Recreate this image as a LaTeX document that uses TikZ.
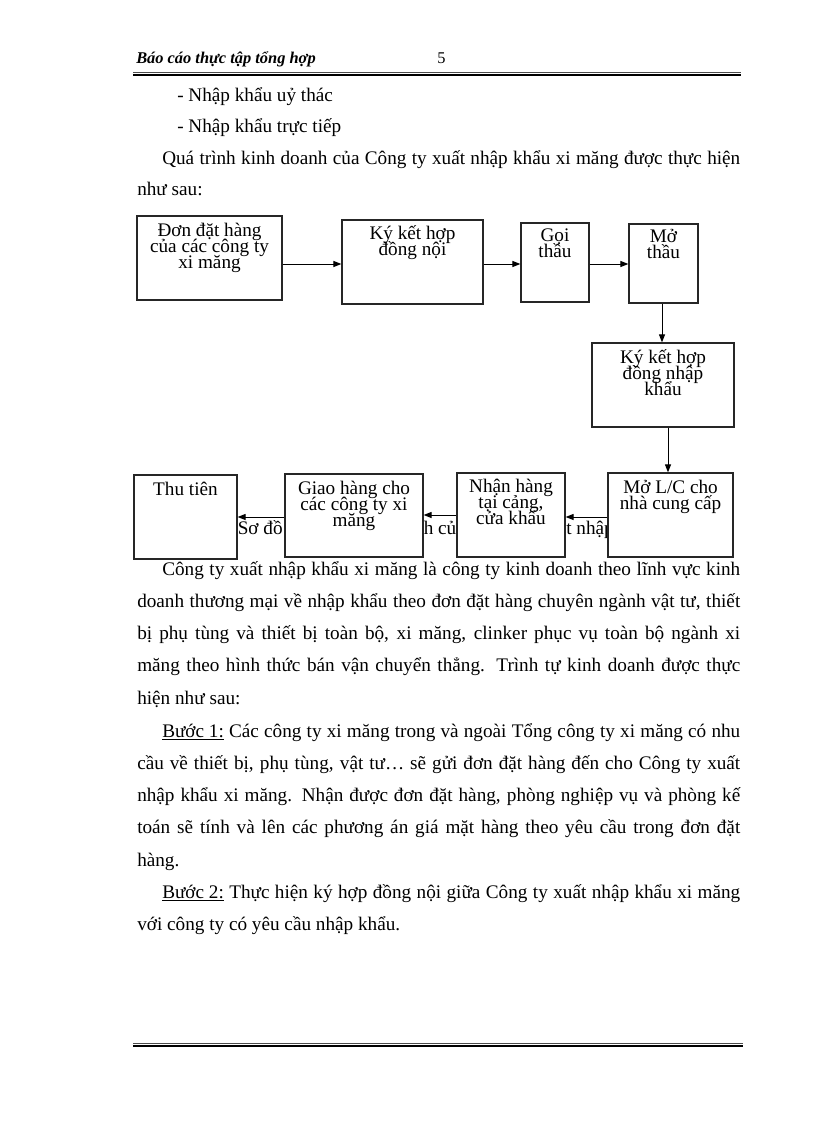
\documentclass[tikz,border=0pt]{standalone}
\usepackage{fontspec}
\setmainfont{Liberation Serif}
\usetikzlibrary{arrows.meta}
\newcommand\myboxfont{\fontsize{14.4pt}{12pt}\selectfont\lineskiplimit=-50pt\relax}
\begin{document}
\begin{tikzpicture}[x=0.75pt,y=-0.75pt,
  para/.style={anchor=base west, inner sep=0pt, font=\fontsize{14.4pt}{17pt}\selectfont},
  hdr/.style={anchor=base west, inner sep=0pt, font=\fontsize{12.3pt}{14pt}\selectfont},
  capfrag/.style={anchor=base west, inner sep=0pt, font=\fontsize{14.4pt}{17pt}\selectfont},
  flowbox/.style={draw=black!85, line width=0.9pt, fill=white, inner sep=0pt},
  boxtext/.style={anchor=north, inner sep=0pt, align=center, font=\myboxfont},
  arr/.style={-{Triangle[length=6pt,width=4.5pt]}, line width=0.75pt, draw=black},
  rulethin/.style={line width=0.6pt, draw=black!70},
  rulethick/.style={line width=1.5pt, draw=black}
]
\useasboundingbox (0,0) rectangle (816,1123);
\fill[white] (0,0) rectangle (816,1123);

% header
\node[hdr] (htitle) at (136,64) {\bfseries\itshape Báo cáo thực tập tổng hợp};
\node[hdr] (hpage) at (437,64) {5};
\draw[rulethin] (133,72) -- (741,72);
\draw[rulethick] (133,74.6) -- (741,74.6);

% top text
\node[para] (l1) at (177,102) {- Nhập khẩu uỷ thác};
\node[para] (l2) at (177,133) {- Nhập khẩu trực tiếp};
\node[para] (l3) at (162,165) {\makebox[433.5pt][s]{Quá trình kinh doanh của Công ty xuất nhập khẩu xi măng được thực hiện}};
\node[para] (l4) at (137,196) {như sau:};

% caption fragments (partly hidden by boxes)
\node[capfrag] (c1) at (237.5,534) {Sơ đồ};
\node[capfrag] (c2) at (423.5,534) {h củ};
\node[capfrag] (c3) at (566,534) {t nhập};

% boxes
\node[flowbox, minimum width=108.75pt, minimum height=63pt] (b1) at (209.5,258) {};
\node[flowbox, minimum width=105.75pt, minimum height=63pt] (b2) at (412.5,262) {};
\node[flowbox, minimum width=51pt, minimum height=59.25pt] (b3) at (555,262.5) {};
\node[flowbox, minimum width=51.75pt, minimum height=59.25pt] (b4) at (663.5,263.5) {};
\node[flowbox, minimum width=106.5pt, minimum height=63pt] (b5) at (663,385) {};
\node[flowbox, minimum width=93.75pt, minimum height=63pt] (b6) at (670.5,515) {};
\node[flowbox, minimum width=81pt, minimum height=63pt] (b7) at (511,515) {};
\node[flowbox, minimum width=103.5pt, minimum height=62.25pt] (b8) at (354,515.5) {};
\node[flowbox, minimum width=77.25pt, minimum height=63pt] (b9) at (185.5,517) {};

% box texts
\node[boxtext] (t1) at (b1.north) {\rule{0pt}{15.5pt}Đơn đặt hàng\\của các công ty\\xi măng};
\node[boxtext] (t2) at (b2.north) {\rule{0pt}{14.5pt}Ký kết hợp\\đồng nội};
\node[boxtext] (t3) at (b3.north) {\rule{0pt}{14pt}Gọi\\thầu};
\node[boxtext] (t4) at (b4.north) {\rule{0pt}{14pt}Mở\\thầu};
\node[boxtext] (t5) at (b5.north) {\rule{0pt}{15.5pt}Ký kết hợp\\đồng nhập\\khẩu};
\node[boxtext] (t6) at (b6.north) {\rule{0pt}{15.5pt}Mở L/C cho\\nhà cung cấp};
\node[boxtext] (t7) at (b7.north) {\rule{0pt}{15pt}Nhận hàng\\tại cảng,\\cửa khẩu};
\node[boxtext] (t8) at (b8.north) {\rule{0pt}{15.5pt}Giao hàng cho\\các công ty xi\\măng};
\node[boxtext] (t9) at (b9.north) {\rule{0pt}{15.75pt}Thu tiên};

% connectors
\coordinate (ytop) at (0,264);
\coordinate (xa) at (662,0);
\coordinate (xb) at (668,0);
\coordinate (ya) at (0,517);
\coordinate (yb) at (0,515);
\draw[arr] (b1.east |- ytop) -- (b2.west |- ytop);
\draw[arr] (b2.east |- ytop) -- (b3.west |- ytop);
\draw[arr] (b3.east |- ytop) -- (b4.west |- ytop);
\draw[arr] (b4.south -| xa) -- (b5.north -| xa);
\draw[arr] (b5.south -| xb) -- (b6.north -| xb);
\draw[arr] (b6.west |- ya) -- (b7.east |- ya);
\draw[arr] (b7.west |- yb) -- (b8.east |- yb);
\draw[arr] (b8.west |- ya) -- (b9.east |- ya);

% body text
\node[para] (p1) at (162,575) {\makebox[433.5pt][s]{Công ty xuất nhập khẩu xi măng là công ty kinh doanh theo lĩnh vực kinh}};
\node[para] (p2) at (137,607.3) {\makebox[452.25pt][s]{doanh thương mại về nhập khẩu theo đơn đặt hàng chuyên ngành vật tư, thiết}};
\node[para] (p3) at (137,639.6) {\makebox[452.25pt][s]{bị phụ tùng và thiết bị toàn bộ, xi măng, clinker phục vụ toàn bộ ngành xi}};
\node[para] (p4) at (137,671.9) {\makebox[452.25pt][s]{măng theo hình thức bán vận chuyển thẳng. Trình tự kinh doanh được thực}};
\node[para] (p5) at (137,704.2) {hiện như sau:};
\node[para] (p6) at (162,737) {\makebox[433.5pt][s]{\underline{Bước 1:} Các công ty xi măng trong và ngoài Tổng công ty xi măng có nhu}};
\node[para] (p7) at (137,769.3) {\makebox[452.25pt][s]{cầu về thiết bị, phụ tùng, vật tư… sẽ gửi đơn đặt hàng đến cho Công ty xuất}};
\node[para] (p8) at (137,801.6) {\makebox[452.25pt][s]{nhập khẩu xi măng. Nhận được đơn đặt hàng, phòng nghiệp vụ và phòng kế}};
\node[para] (p9) at (137,833.9) {\makebox[452.25pt][s]{toán sẽ tính và lên các phương án giá mặt hàng theo yêu cầu trong đơn đặt}};
\node[para] (p10) at (137,866.2) {hàng.};
\node[para] (p11) at (162,898.5) {\makebox[433.5pt][s]{\underline{Bước 2:} Thực hiện ký hợp đồng nội giữa Công ty xuất nhập khẩu xi măng}};
\node[para] (p12) at (137,930.8) {với công ty có yêu cầu nhập khẩu.};

% footer
\draw[rulethin] (133,1043) -- (743,1043);
\draw[rulethick] (133,1045.6) -- (743,1045.6);
\end{tikzpicture}
\end{document}
